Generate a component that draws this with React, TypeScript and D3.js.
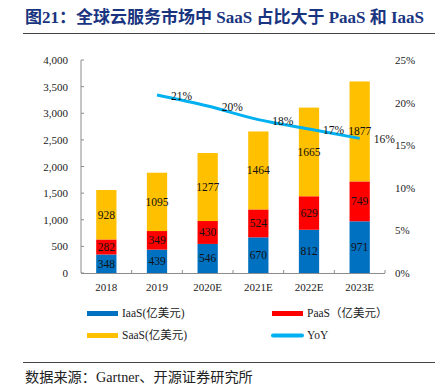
import React from "react";
import * as d3 from "d3";

const categories = ["2018", "2019", "2020E", "2021E", "2022E", "2023E"];
const iaas = [348, 439, 546, 670, 812, 971];
const paas = [282, 349, 430, 524, 629, 749];
const saas = [928, 1095, 1277, 1464, 1665, 1877];
const yoyCats = ["2019", "2020E", "2021E", "2022E", "2023E"];
const yoy = [20.9, 19.6, 18.0, 16.9, 15.8];
const leftTicks = [0, 500, 1000, 1500, 2000, 2500, 3000, 3500, 4000];
const rightTicks = [0, 5, 10, 15, 20, 25];

const C_IAAS = "#0070C0";
const C_PAAS = "#FF0000";
const C_SAAS = "#FFC000";
const C_YOY = "#00B0F0";
const SERIF = "'Liberation Serif', 'Times New Roman', 'Noto Sans CJK SC', serif";
const CJK = "'Liberation Serif', 'Noto Sans CJK SC', serif";

export default function App() {
  const W = 446, H = 390;
  const x0 = 81, x1 = 385, yTop = 60, yBot = 273;
  const x = d3.scaleBand().domain(categories).range([x0, x1]).paddingInner(0.6).paddingOuter(0.3);
  const xc = (c: string) => (x(c) as number) + x.bandwidth() / 2;
  const yL = d3.scaleLinear().domain([0, 4000]).range([yBot, yTop]);
  const yR = d3.scaleLinear().domain([0, 25]).range([yBot, yTop]);
  const step = (x1 - x0) / categories.length;

  const stacks = categories.map((c, i) => {
    const segs = [
      { v: iaas[i], c: C_IAAS },
      { v: paas[i], c: C_PAAS },
      { v: saas[i], c: C_SAAS },
    ];
    let acc = 0;
    return segs.map((s) => {
      const r = { ...s, y0: acc, y1: acc + s.v };
      acc += s.v;
      return r;
    });
  });

  const line = d3
    .line<number>()
    .x((_, i) => xc(yoyCats[i]))
    .y((d) => yR(d))
    .curve(d3.curveMonotoneX);

  return (
    <svg width={W} height={H} style={{ position: "absolute", left: 0, top: 0, background: "#fff" }}>
      <text x={25} y={23} fontFamily={SERIF} fontWeight="bold" fontSize={17} fill="#1A357F">
        图21：全球云服务市场中 SaaS 占比大于 PaaS 和 IaaS
      </text>
      <line x1={23} x2={435} y1={33.5} y2={33.5} stroke="#444" strokeWidth={1} />

      {/* left axis */}
      <line x1={x0} x2={x0} y1={yTop} y2={yBot} stroke="#8c8c8c" strokeWidth={1} />
      {leftTicks.map((t) => (
        <g key={t}>
          <line x1={x0} x2={x0 + 3} y1={yL(t)} y2={yL(t)} stroke="#8c8c8c" />
          <text x={68} y={yL(t) + 4} textAnchor="end" fontFamily={SERIF} fontSize={11} fill="#222">
            {d3.format(",")(t)}
          </text>
        </g>
      ))}
      {rightTicks.map((t) => (
        <text key={t} x={395} y={yR(t) + 4} fontFamily={SERIF} fontSize={11} fill="#222">
          {t}%
        </text>
      ))}

      {/* bars */}
      {stacks.map((segs, i) =>
        segs.map((s, j) => (
          <g key={i + "-" + j}>
            <rect
              x={x(categories[i])}
              width={x.bandwidth()}
              y={yL(s.y1)}
              height={yL(s.y0) - yL(s.y1)}
              fill={s.c}
            />
            <text
              x={xc(categories[i])}
              y={(yL(s.y0) + yL(s.y1)) / 2 + 4}
              textAnchor="middle"
              fontFamily={SERIF}
              fontSize={11.5}
              fill="#111"
            >
              {s.v}
            </text>
          </g>
        ))
      )}

      {/* x axis */}
      <line x1={x0} x2={x1} y1={yBot + 0.5} y2={yBot + 0.5} stroke="#8c8c8c" />
      {categories.map((c, i) => (
        <g key={c}>
          <line x1={x0 + step * (i + 1)} x2={x0 + step * (i + 1)} y1={yBot} y2={yBot - 3} stroke="#8c8c8c" />
          <text x={xc(c)} y={291} textAnchor="middle" fontFamily={SERIF} fontSize={11} fill="#222">
            {c}
          </text>
        </g>
      ))}

      {/* YoY line */}
      <path d={line(yoy) || ""} fill="none" stroke={C_YOY} strokeWidth={3} />
      {yoy.map((v, i) => (
        <text key={i} x={xc(yoyCats[i]) + 14} y={yR(v) + 5} fontFamily={SERIF} fontSize={11.5} fill="#111">
          {Math.round(v)}%
        </text>
      ))}

      {/* legend */}
      <rect x={87} y={311} width={31} height={5} fill={C_IAAS} />
      <text x={122} y={317} fontFamily={CJK} fontSize={11.5} fill="#222">IaaS(亿美元)</text>
      <rect x={272} y={311} width={31} height={5} fill={C_PAAS} />
      <text x={307} y={317} fontFamily={CJK} fontSize={11.5} fill="#222">PaaS（亿美元）</text>
      <rect x={87} y={333} width={31} height={5} fill={C_SAAS} />
      <text x={122} y={339} fontFamily={CJK} fontSize={11.5} fill="#222">SaaS(亿美元)</text>
      <line x1={273} x2={302} y1={335.5} y2={335.5} stroke={C_YOY} strokeWidth={4} strokeLinecap="round" />
      <text x={307} y={339} fontFamily={CJK} fontSize={11.5} fill="#222">YoY</text>

      <line x1={23} x2={435} y1={362.5} y2={362.5} stroke="#444" strokeWidth={1} />
      <text x={25} y={382} fontFamily={CJK} fontSize={14.2} fill="#222">数据来源：Gartner、开源证券研究所</text>
    </svg>
  );
}
